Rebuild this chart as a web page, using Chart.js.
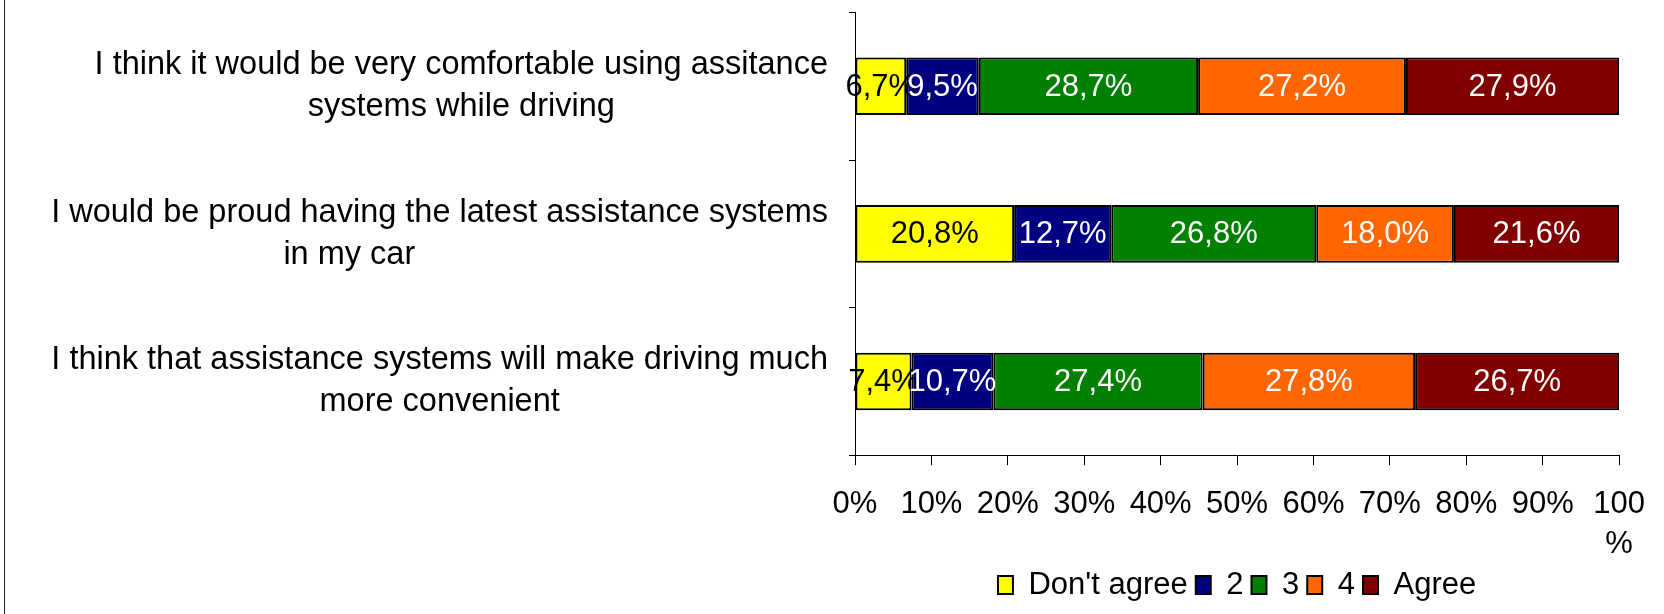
<!DOCTYPE html>
<html><head><meta charset="utf-8">
<script src="https://cdn.jsdelivr.net/npm/chart.js@4/dist/chart.umd.min.js"></script>
<style>html,body{margin:0;padding:0;background:#fff;} #wrap{width:1664px;height:614px;position:relative;}</style>
</head><body><div id="wrap"><canvas id="c" width="1664" height="614"></canvas></div>
<script>
const categories = [
  ["I think it would be very comfortable using assitance", "systems while driving"],
  ["I would be proud having the latest assistance systems", "in my car                    "],
  ["I think that assistance systems will make driving much", "more convenient"]
];
const seriesNames = ["Don't agree", "2", "3", "4", "Agree"];
const dontAgree = [6.7, 20.8, 7.4];
const two = [9.5, 12.7, 10.7];
const three = [28.7, 26.8, 27.4];
const four = [27.2, 18.0, 27.8];
const agree = [27.9, 21.6, 26.7];
const xTickLabels = ["0%", "10%", "20%", "30%", "40%", "50%", "60%", "70%", "80%", "90%", ["100", "%"]];
const colors = ["#FFFF00", "#000080", "#008000", "#FF6600", "#800000"];
const labelColors = ["#000000", "#FFFFFF", "#FFFFFF", "#FFFFFF", "#FFFFFF"];

const FONT = "'Liberation Sans', Arial, Helvetica, sans-serif";
const series = [dontAgree, two, three, four, agree];
const totals = categories.map((_, i) => series.reduce((s, arr) => s + arr[i], 0));

const datasets = series.map((arr, k) => ({
  label: seriesNames[k],
  data: arr.map((v, i) => v / totals[i] * 100),
  backgroundColor: colors[k],
  borderColor: "#000000",
  borderWidth: 2,
  borderSkipped: false,
  categoryPercentage: 1.0,
  barPercentage: 0.39
}));

Chart.defaults.font.family = FONT;
Chart.defaults.color = "#000";

const bgPlugin = {
  id: "bg",
  beforeDraw(chart) {
    const c = chart.ctx;
    c.save();
    c.fillStyle = "#fff";
    c.fillRect(0, 0, chart.width, chart.height);
    c.strokeStyle = "#222";
    c.lineWidth = 1;
    c.beginPath();
    c.moveTo(4.5, 0);
    c.lineTo(4.5, chart.height);
    c.stroke();
    c.restore();
  }
};

const legendPos = {
  id: "legendPos",
  afterLayout(chart) {
    const lg = chart.legend;
    const ca = chart.chartArea;
    if (lg) {
      lg.left = ca.left;
      lg.right = ca.right;
      lg.width = ca.right - ca.left;
    }
  }
};

const valueLabels = {
  id: "valueLabels",
  afterDatasetsDraw(chart) {
    const c = chart.ctx;
    c.save();
    c.font = "31px " + FONT;
    c.textAlign = "center";
    c.textBaseline = "middle";
    chart.data.datasets.forEach((ds, di) => {
      const meta = chart.getDatasetMeta(di);
      meta.data.forEach((el, i) => {
        const p = el.getProps(["x", "base", "y"], true);
        const cx = (p.x + p.base) / 2;
        c.fillStyle = labelColors[di];
        c.fillText(series[di][i].toFixed(1).replace(".", ",") + "%", cx, p.y + 1);
      });
    });
    c.restore();
  }
};

const yLabels = {
  id: "yLabels",
  afterDraw(chart) {
    const c = chart.ctx;
    const ys = chart.scales.y;
    c.save();
    c.font = "32.5px " + FONT;
    c.fillStyle = "#000";
    c.textAlign = "center";
    c.textBaseline = "middle";
    const rightEdge = 828;
    const lh = 42;
    categories.forEach((lines, i) => {
      const yc = ys.getPixelForValue(i);
      const w = Math.max(...lines.map(l => c.measureText(l).width));
      const cx = rightEdge - w / 2;
      lines.forEach((l, j) => {
        c.fillText(l, cx, yc + (j - (lines.length - 1) / 2) * lh);
      });
    });
    c.restore();
  }
};

new Chart(document.getElementById("c"), {
  type: "bar",
  data: { labels: categories, datasets },
  options: {
    indexAxis: "y",
    responsive: false,
    animation: false,
    layout: { padding: { top: 12.5, right: 42, bottom: 3.5, left: 0 } },
    scales: {
      x: {
        stacked: true,
        min: 0,
        max: 100,
        ticks: {
          stepSize: 10,
          autoSkip: false,
          maxRotation: 0,
          color: "#000",
          padding: 19,
          font: { family: FONT, size: 31, lineHeight: 1.3 },
          callback: (v, i) => xTickLabels[i]
        },
        grid: { drawOnChartArea: false, color: "#000", tickColor: "#000", tickLength: 10 },
        border: { color: "#000", width: 1 },
        afterFit(s) { s.height = 106.3; }
      },
      y: {
        stacked: true,
        ticks: { display: false },
        grid: { drawOnChartArea: false, color: "#000", tickColor: "#000", tickLength: 6, offset: true },
        border: { color: "#000", width: 1 },
        afterFit(s) { s.width = 855; }
      }
    },
    plugins: {
      legend: {
        position: "bottom",
        labels: {
          boxWidth: 15,
          boxHeight: 18,
          padding: 8,
          color: "#000",
          font: { family: FONT, size: 31 }
        }
      },
      tooltip: { enabled: false }
    }
  },
  plugins: [bgPlugin, legendPos, valueLabels, yLabels]
});
</script>
</body></html>
